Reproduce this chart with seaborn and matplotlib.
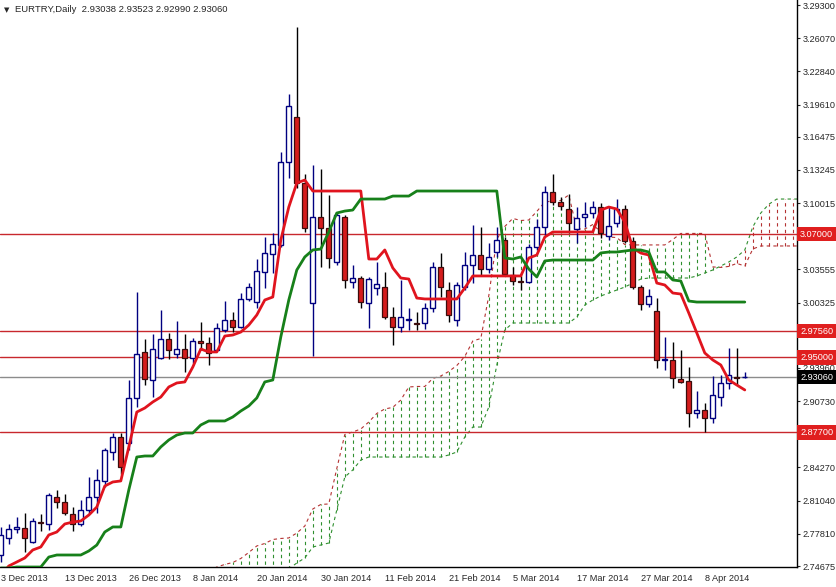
import numpy as np
import pandas as pd
import matplotlib
matplotlib.use("Agg")
import matplotlib.pyplot as plt
import matplotlib.transforms as mtransforms
import seaborn as sns

sns.set_style("white")
plt.rcParams['font.family'] = ['Liberation Sans', 'DejaVu Sans']

# daily candles, 3 Dec 2013 .. 15 Apr 2014 (one per trading day)
opens = [2.7575, 2.7740, 2.7828, 2.7838, 2.7701, 2.7896, 2.7877, 2.8140, 2.8091, 2.7974,
         2.7877, 2.8013, 2.8140, 2.8296, 2.8578, 2.8724, 2.8665, 2.9104, 2.9552, 2.9279,
         2.9493, 2.9678, 2.9532, 2.9581, 2.9493, 2.9659, 2.9639, 2.9571, 2.9766, 2.9863,
         2.9795, 3.0068, 3.0038, 3.0331, 3.0506, 3.0593, 3.1402, 3.1840, 3.1197, 3.0029,
         3.0866, 3.0759, 3.0428, 3.0866, 3.0233, 3.0272, 3.0029, 3.0175, 3.0185, 2.9892,
         2.9795, 2.9868, 2.9834, 2.9834, 2.9980, 3.0379, 3.0155, 2.9863, 3.0185, 3.0399,
         3.0496, 3.0360, 3.0525, 3.0642, 3.0301, 3.0238, 3.0233, 3.0574, 3.0769, 3.1110,
         3.1012, 3.0944, 3.0749, 3.0866, 3.0905, 3.0963, 3.0681, 3.0808, 3.0944, 3.0632,
         3.0185, 3.0019, 2.9951, 2.9474, 2.9474, 2.9289, 2.9269, 2.8958, 2.8987, 2.8909,
         2.9113, 2.9250, 2.9308, 2.93038]
highs = [2.7848, 2.7877, 2.7945, 2.7984, 2.7935, 2.7974, 2.8179, 2.8208, 2.8169, 2.8042,
         2.8110, 2.8335, 2.8412, 2.8617, 2.8763, 2.8763, 2.9279, 3.0136, 2.9678, 2.9727,
         2.9960, 2.9737, 2.9853, 2.9727, 2.9688, 2.9844, 2.9698, 2.9834, 3.0048, 2.9941,
         3.0126, 3.0223, 3.0457, 3.0671, 3.0710, 3.1499, 3.2064, 3.2716, 3.1285, 3.1372,
         3.1333, 3.1080, 3.0915, 3.0886, 3.0399, 3.0292, 3.0282, 3.0428, 3.0331, 2.9989,
         3.0253, 2.9980, 2.9941, 3.0029, 3.0428, 3.0516, 3.0233, 3.0233, 3.0525, 3.0788,
         3.0769, 3.0613, 3.0769, 3.0671, 3.0379, 3.0292, 3.0603, 3.0846, 3.1168, 3.1285,
         3.1061, 3.1090, 3.0963, 3.1012, 3.1022, 3.1002, 3.0973, 3.1041, 3.0983, 3.0671,
         3.0204, 3.0165, 3.0077, 2.9698, 2.9649, 2.9571, 2.9406, 2.9172, 2.9055, 2.9318,
         2.9328, 2.9591, 2.9591, 2.93523]
lows = [2.7507, 2.7682, 2.7789, 2.7604, 2.7692, 2.7809, 2.7818, 2.8033, 2.7964, 2.7809,
        2.7857, 2.7984, 2.7984, 2.8237, 2.8500, 2.8364, 2.8597, 2.9016, 2.9230, 2.9113,
        2.9488, 2.9483, 2.9493, 2.9357, 2.9445, 2.9571, 2.9425, 2.9571, 2.9746, 2.9746,
        2.9785, 3.0048, 2.9980, 3.0175, 3.0321, 3.0574, 3.1246, 3.1148, 3.0720, 2.9513,
        3.0379, 3.0370, 3.0399, 3.0175, 3.0175, 2.9980, 2.9785, 3.0107, 2.9873, 2.9620,
        2.9746, 2.9766, 2.9766, 2.9775, 2.9941, 3.0087, 2.9844, 2.9805, 3.0155, 3.0224,
        3.0301, 3.0321, 3.0477, 3.0292, 3.0204, 3.0155, 3.0224, 3.0545, 3.0691, 3.0983,
        3.0934, 3.0710, 3.0613, 3.0769, 3.0856, 3.0662, 3.0642, 3.0769, 3.0613, 3.0165,
        2.9960, 2.9989, 2.9396, 2.9376, 2.9201, 2.9250, 2.8821, 2.8909, 2.8773, 2.8860,
        2.9026, 2.9191, 2.9230, 2.92990]
closes = [2.7770, 2.7828, 2.7848, 2.7740, 2.7906, 2.7882, 2.8159, 2.8091, 2.7984, 2.7877,
          2.8013, 2.8140, 2.8306, 2.8598, 2.8724, 2.8432, 2.9104, 2.9532, 2.9289, 2.9581,
          2.9678, 2.9571, 2.9581, 2.9493, 2.9659, 2.9639, 2.9542, 2.9785, 2.9863, 2.9795,
          3.0068, 3.0185, 3.0340, 3.0516, 3.0603, 3.1402, 3.1947, 3.1197, 3.0759, 3.0866,
          3.0759, 3.0467, 3.0886, 3.0253, 3.0272, 3.0038, 3.0262, 3.0214, 2.9892, 2.9795,
          2.9892, 2.9873, 2.9829, 2.9980, 3.0379, 3.0185, 2.9911, 3.0204, 3.0399, 3.0496,
          3.0360, 3.0477, 3.0642, 3.0311, 3.0243, 3.0233, 3.0574, 3.0769, 3.1110, 3.1012,
          3.0973, 3.0808, 3.0856, 3.0895, 3.0963, 3.0710, 3.0778, 3.0944, 3.0632, 3.0185,
          3.0019, 3.0097, 2.9474, 2.9483, 2.9298, 2.9260, 2.8958, 2.8987, 2.8909, 2.9133,
          2.9250, 2.9328, 2.9303, 2.93060]

# Ichimoku lines
tenkan = [2.7380, 2.7468, 2.7507, 2.7546, 2.7624, 2.7653, 2.7770, 2.7799, 2.7877, 2.7896,
          2.7906, 2.7964, 2.8042, 2.8247, 2.8286, 2.8296, 2.8626, 2.8967, 2.9006, 2.9065,
          2.9113, 2.9211, 2.9250, 2.9260, 2.9405, 2.9581, 2.9552, 2.9552, 2.9707, 2.9717,
          2.9746, 2.9814, 2.9912, 3.0058, 3.0087, 3.0642, 3.0963, 3.1197, 3.1226, 3.1119,
          3.1119, 3.1119, 3.1119, 3.1119, 3.1119, 3.1119, 3.0457, 3.0457, 3.0545, 3.0370,
          3.0272, 3.0262, 3.0077, 3.0068, 3.0068, 3.0068, 3.0068, 3.0068, 3.0175, 3.0292,
          3.0292, 3.0292, 3.0292, 3.0292, 3.0292, 3.0292, 3.0467, 3.0496, 3.0671, 3.0720,
          3.0720, 3.0720, 3.0720, 3.0720, 3.0720, 3.0934, 3.0963, 3.0944, 3.0817, 3.0564,
          3.0515, 3.0496, 3.0223, 3.0204, 3.0126, 3.0116, 2.9931, 2.9737, 2.9542, 2.9474,
          2.9425, 2.9279, 2.9230, 2.9182]
kijun = [2.7448, 2.7448, 2.7458, 2.7458, 2.7458, 2.7458, 2.7555, 2.7575, 2.7575, 2.7575,
         2.7575, 2.7614, 2.7672, 2.7799, 2.7848, 2.7848, 2.8208, 2.8529, 2.8539, 2.8539,
         2.8627, 2.8695, 2.8743, 2.8763, 2.8763, 2.8841, 2.8880, 2.8880, 2.8880, 2.8919,
         2.8977, 2.9026, 2.9104, 2.9260, 2.9279, 2.9698, 3.0058, 3.0350, 3.0477, 3.0545,
         3.0554, 3.0720, 3.0905, 3.0924, 3.0934, 3.1041, 3.1041, 3.1041, 3.1041, 3.1070,
         3.1070, 3.1070, 3.1119, 3.1119, 3.1119, 3.1119, 3.1119, 3.1119, 3.1119, 3.1119,
         3.1119, 3.1119, 3.1119, 3.0467, 3.0457, 3.0477, 3.0360, 3.0282, 3.0438, 3.0447,
         3.0447, 3.0447, 3.0447, 3.0447, 3.0447, 3.0516, 3.0525, 3.0525, 3.0535, 3.0545,
         3.0545, 3.0525, 3.0331, 3.0331, 3.0253, 3.0243, 3.0048, 3.0038, 3.0038, 3.0038,
         3.0038, 3.0038, 3.0038, 3.0038]

# cloud spans, from bar 26 onwards (runs past the last candle)
cloud_start = 26
span_a = [2.7414, 2.7458, 2.7483, 2.7502, 2.7541, 2.7600, 2.7663, 2.7687, 2.7726, 2.7736,
          2.7741, 2.7789, 2.7857, 2.8023, 2.8067, 2.8072, 2.8417, 2.8748, 2.8773, 2.8802,
          2.8870, 2.8953, 2.8997, 2.9012, 2.9084, 2.9211, 2.9216, 2.9216, 2.9294, 2.9318,
          2.9362, 2.9420, 2.9508, 2.9659, 2.9683, 3.0100, 3.0650, 3.0774, 3.0852, 3.0832,
          3.0837, 3.0920, 3.1012, 3.1022, 3.1027, 3.1080, 3.0749, 3.0749, 3.0793, 3.0720,
          3.0671, 3.0666, 3.0598, 3.0594, 3.0594, 3.0594, 3.0594, 3.0594, 3.0647, 3.0706,
          3.0706, 3.0706, 3.0706, 3.0380, 3.0375, 3.0385, 3.0414, 3.0389, 3.0555, 3.0584,
          3.0584, 3.0584, 3.0584, 3.0584, 3.0584]
span_b = [2.7420, 2.7420, 2.7420, 2.7420, 2.7420, 2.7420, 2.7420, 2.7420, 2.7420, 2.7420,
          2.7440, 2.7497, 2.7546, 2.7653, 2.7672, 2.7692, 2.8013, 2.8335, 2.8403, 2.8500,
          2.8529, 2.8529, 2.8529, 2.8529, 2.8529, 2.8529, 2.8529, 2.8529, 2.8529, 2.8529,
          2.8549, 2.8578, 2.8724, 2.8821, 2.8821, 2.9016, 2.9425, 2.9766, 2.9834, 2.9834,
          2.9834, 2.9834, 2.9834, 2.9834, 2.9834, 2.9834, 2.9892, 3.0009, 3.0058, 3.0097,
          3.0126, 3.0155, 3.0184, 3.0223, 3.0262, 3.0272, 3.0272, 3.0272, 3.0272, 3.0272,
          3.0272, 3.0292, 3.0321, 3.0350, 3.0389, 3.0428, 3.0477, 3.0545, 3.0770, 3.0905,
          3.0990, 3.1041, 3.1041, 3.1041, 3.1041]

date_labels = ['3 Dec 2013', '13 Dec 2013', '26 Dec 2013', '8 Jan 2014', '20 Jan 2014',
               '30 Jan 2014', '11 Feb 2014', '21 Feb 2014', '5 Mar 2014', '17 Mar 2014',
               '27 Mar 2014', '8 Apr 2014']
date_every = 8

price_ticks = [3.29300, 3.26070, 3.22840, 3.19610, 3.16475, 3.13245, 3.10015, 3.03555,
               3.00325, 2.97190, 2.93960, 2.90730, 2.84270, 2.81040, 2.77810, 2.74675]
level_lines = [3.07000, 2.97560, 2.95000, 2.87700]
bid = 2.93060

df = pd.DataFrame({'open': opens, 'high': highs, 'low': lows, 'close': closes,
                   'tenkan': tenkan, 'kijun': kijun})
df['bar'] = np.arange(len(df))
cloud = pd.DataFrame({'span_a': span_a, 'span_b': span_b})
cloud['bar'] = np.arange(len(cloud)) + cloud_start

NAVY = '#000080'
CANDLE_RED = '#d41c1c'
LINE_RED = '#c8282d'
FS = 6.6

fig = plt.figure(figsize=(8.37, 5.87), dpi=100)
ax = fig.add_axes([0, 20 / 587, 797 / 837, 567 / 587])

# cloud: dotted verticals between the spans + dotted span lines
bull_cloud = cloud.span_a >= cloud.span_b
ax.vlines(cloud.bar[bull_cloud], cloud.span_b[bull_cloud], cloud.span_a[bull_cloud],
          colors='#2f8f2f', linestyles=(0, (3, 3)), lw=0.8, zorder=1)
ax.vlines(cloud.bar[~bull_cloud], cloud.span_a[~bull_cloud], cloud.span_b[~bull_cloud],
          colors='#b43232', linestyles=(0, (3, 3)), lw=0.8, zorder=1)
sns.lineplot(data=cloud, x='bar', y='span_a', ax=ax, color='#b43232', lw=0.8,
             linestyle=(0, (3, 3)), zorder=2, legend=False)
sns.lineplot(data=cloud, x='bar', y='span_b', ax=ax, color='#2f8f2f', lw=0.8,
             linestyle=(0, (3, 3)), zorder=2, legend=False)

# horizontal levels
for lvl in level_lines:
    ax.axhline(lvl, color=LINE_RED, lw=1, zorder=3)
ax.axhline(bid, color='#8c8c8c', lw=1, zorder=3)

# candles
up = df.close >= df.open
body_lo = np.minimum(df.open, df.close)
body_h = np.maximum((df.close - df.open).abs(), 0.0008)
ax.vlines(df.bar[up], df.low[up], df.high[up], colors=NAVY, lw=1, zorder=4)
ax.vlines(df.bar[~up], df.low[~up], df.high[~up], colors='black', lw=1, zorder=4)
ax.bar(df.bar[up], body_h[up], bottom=body_lo[up], width=0.62, facecolor='white',
       edgecolor=NAVY, lw=1, zorder=5)
ax.bar(df.bar[~up], body_h[~up], bottom=body_lo[~up], width=0.62, facecolor=CANDLE_RED,
       edgecolor='#3c0c0c', lw=0.9, zorder=5)

# tenkan / kijun
sns.lineplot(data=df, x='bar', y='tenkan', ax=ax, color='#e0141e', lw=2, zorder=6, legend=False)
sns.lineplot(data=df, x='bar', y='kijun', ax=ax, color='#17801a', lw=2, zorder=6, legend=False)

ax.set_xlim(-0.1, 99.525)
ax.set_ylim(2.74581, 3.2979)
ax.set_xlabel('')
ax.set_ylabel('')

ax.set_xticks(np.arange(len(date_labels)) * date_every)
ax.set_xticklabels(date_labels, ha='left')
ax.yaxis.tick_right()
ax.set_yticks(price_ticks)
ax.set_yticklabels([f'{v:.5f}' for v in price_ticks])
ax.tick_params(axis='x', direction='out', length=4, width=0.8, pad=1, labelsize=FS)
ax.tick_params(axis='y', direction='out', length=2.5, width=0.8, pad=1.5, labelsize=FS)

for side in ['left', 'top']:
    ax.spines[side].set_visible(False)
for side in ['right', 'bottom']:
    ax.spines[side].set_color('black')
    ax.spines[side].set_linewidth(1)

# price tags on the right axis
trans = mtransforms.blended_transform_factory(ax.transAxes, ax.transData)
for lvl in level_lines:
    ax.text(1.004, lvl, f'{lvl:.5f}', transform=trans, ha='left', va='center', fontsize=FS,
            color='white', clip_on=False, zorder=10,
            bbox=dict(boxstyle='square,pad=0.3', fc='#e01f1f', ec='none'))
ax.text(1.004, bid, f'{bid:.5f}', transform=trans, ha='left', va='center', fontsize=FS,
        color='white', clip_on=False, zorder=10,
        bbox=dict(boxstyle='square,pad=0.3', fc='black', ec='none'))

# header
ax.text(4 / 797, 1 - 10 / 567, '▼', transform=ax.transAxes, fontsize=5, va='center',
        family='DejaVu Sans')
ax.text(15 / 797, 1 - 10 / 567, 'EURTRY,Daily  2.93038 2.93523 2.92990 2.93060',
        transform=ax.transAxes, fontsize=FS + 0.2, va='center')

fig.savefig('out.png', dpi=100)
